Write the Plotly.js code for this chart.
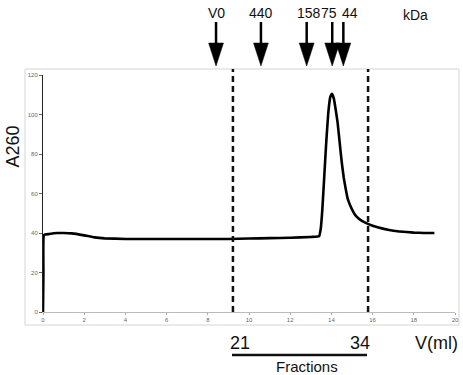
<!DOCTYPE html>
<html>
<head>
<meta charset="utf-8">
<script src="https://cdn.plot.ly/plotly-3.0.1.min.js"></script>
<style>html,body{margin:0;padding:0;background:#fff;}#chart{width:463px;height:375px;}</style>
</head>
<body>
<div id="chart"></div>
<script>
// Elution profile: volume (ml) vs A260
const volume = [0, 0.02, 0.05, 0.3, 0.7, 1.0, 1.4, 2.0, 2.5, 3.0, 4, 5, 6, 7, 8, 9, 10, 11, 12, 13, 13.4,
  13.48, 13.56, 13.65, 13.75, 13.85, 13.95, 14.03, 14.12, 14.2, 14.3, 14.4, 14.5, 14.6, 14.7, 14.8, 15.0,
  15.2, 15.5, 15.8, 16.2, 16.8, 17.3, 18.0, 18.5, 19.0];
const a260 = [0, 20, 39, 39.5, 40, 40, 39.8, 38.8, 37.8, 37.3, 37, 37, 37, 37, 37, 37, 37.2, 37.4, 37.6, 38, 38.3,
  42, 52, 68, 86, 101, 109, 110.5, 108, 103, 96, 86, 76, 68, 62, 57, 52,
  48.5, 46, 44.5, 43, 41.5, 40.8, 40.2, 40, 40];

// Fraction boundaries (ml) and fraction numbers
const fractionBounds = [9.22, 15.78];
const fractionLabels = ['21', '34'];

// Size markers (ml) and labels (kDa)
const markerVolumes = [8.4, 10.58, 12.8, 14.04, 14.58];
const markerLabels = ['V0', '440', '158', '75', '44'];
const markerLabelShift = [0, 0, 2, -3, 7];

const xTicks = [0, 2, 4, 6, 8, 10, 12, 14, 16, 18, 20];
const yTicks = [0, 20, 40, 60, 80, 100, 120];

const FONT = 'Liberation Sans, Arial, Helvetica, sans-serif';

const shapes = [
  {type: 'rect', xref: 'paper', yref: 'paper', x0: -0.0437, x1: 1.0097, y0: -0.0549, y1: 1.0253,
   line: {color: '#d4d4d4', width: 1}, layer: 'below'}
];
fractionBounds.forEach(v => shapes.push({
  type: 'line', xref: 'x', yref: 'paper', x0: v, x1: v, y0: 0, y1: 1.025,
  line: {color: '#111', width: 2.5, dash: '6px,4px'}
}));
markerVolumes.forEach(v => {
  shapes.push({type: 'line', xref: 'x', yref: 'paper', x0: v, x1: v, y0: 1.2236, y1: 1.12,
    line: {color: '#000', width: 2.5}});
  shapes.push({type: 'path', xref: 'x', yref: 'paper',
    path: `M ${v - 0.36},1.135 L ${v + 0.36},1.135 L ${v},1.038 Z`,
    fillcolor: '#000', line: {color: '#000', width: 0.5}});
});
shapes.push({type: 'line', xref: 'paper', yref: 'paper', x0: 0.4587, x1: 0.7864, y0: -0.181, y1: -0.181,
  line: {color: '#111', width: 2.5}});

const annotations = [];
function ann(o) {
  annotations.push(Object.assign({showarrow: false, xanchor: 'center', yanchor: 'middle'}, o));
}
markerVolumes.forEach((v, i) => ann({
  x: v, xref: 'x', y: 1.2616, yref: 'paper', text: markerLabels[i],
  xshift: markerLabelShift[i], font: {family: FONT, size: 14, color: '#111'}
}));
ann({x: 0.903, xref: 'paper', y: 1.253, yref: 'paper', text: 'kDa',
  font: {family: FONT, size: 14, color: '#111'}});
fractionBounds.forEach((v, i) => ann({
  x: i === 0 ? v + 0.34 : v - 0.39, xref: 'x', y: -0.1308, yref: 'paper', text: fractionLabels[i],
  font: {family: FONT, size: 18, color: '#111'}
}));
ann({x: 19.08, xref: 'x', y: -0.1308, yref: 'paper', text: 'V(ml)',
  font: {family: FONT, size: 18, color: '#111'}});
ann({x: 0.641, xref: 'paper', y: -0.232, yref: 'paper', text: 'Fractions',
  font: {family: FONT, size: 15, color: '#111'}});
// y-axis title placed as in the reference (upper part of the axis)
ann({x: -0.0728, xref: 'paper', y: 0.698, yref: 'paper', text: 'A260', textangle: -90,
  font: {family: FONT, size: 18, color: '#111'}});

const trace = {
  x: volume, y: a260, type: 'scatter', mode: 'lines',
  line: {color: '#000', width: 2.6, shape: 'spline', smoothing: 0.35},
  hoverinfo: 'skip'
};

const layout = {
  width: 463, height: 375,
  margin: {l: 43, r: 8, t: 75, b: 63, pad: 0},
  paper_bgcolor: '#fff', plot_bgcolor: '#fff',
  showlegend: false,
  xaxis: {
    range: [0, 20], tickvals: xTicks, ticktext: xTicks.map(String),
    showgrid: false, zeroline: false, showline: true, linecolor: '#bbb', linewidth: 1,
    ticks: 'outside', ticklen: 2, tickcolor: '#aaa',
    tickfont: {family: FONT, size: 6, color: '#666'}
  },
  yaxis: {
    range: [0, 120], tickvals: yTicks, ticktext: yTicks.map(String),
    showgrid: false, zeroline: false, showline: true, linecolor: '#222', linewidth: 1,
    ticks: 'outside', ticklen: 3, tickcolor: '#666',
    tickfont: {family: FONT, size: 6, color: '#666'}
  },
  shapes: shapes,
  annotations: annotations
};

Plotly.newPlot('chart', [trace], layout, {displayModeBar: false, staticPlot: true});
</script>
</body>
</html>
